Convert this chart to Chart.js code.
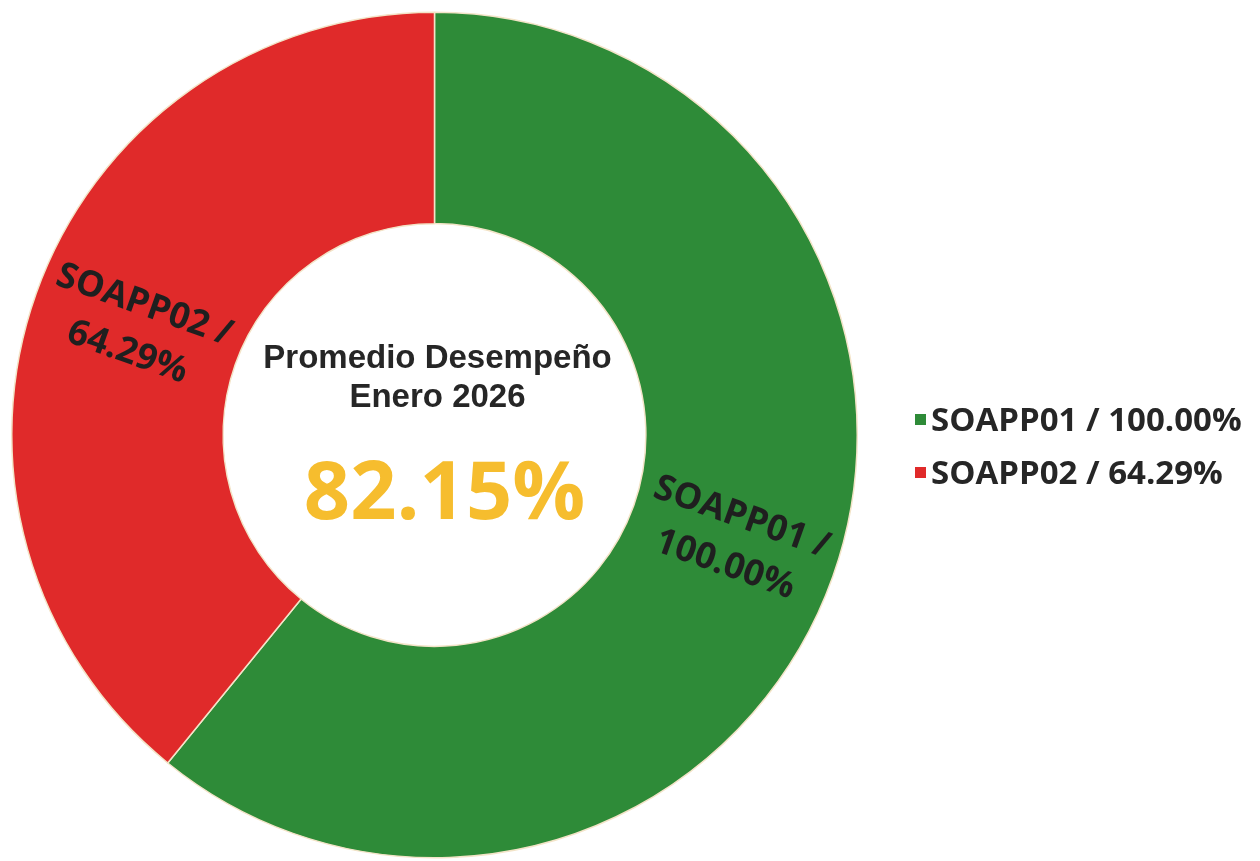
<!DOCTYPE html>
<html>
<head>
<meta charset="utf-8">
<title>Promedio Desempeño Enero 2026</title>
<script src="https://cdn.jsdelivr.net/npm/chart.js@4"></script>
<style>
  body { margin: 0; background: #fff; }
  #wrap { position: relative; width: 1260px; height: 861px; }
</style>
</head>
<body>
<div id="wrap"><canvas id="donut" width="1260" height="861"></canvas></div>
<script>
// data
const labels = ['SOAPP01', 'SOAPP02'];
const values = [100.00, 64.29];
const colors = ['#2e8b38', '#e02a2a'];
const centerTitle = ['Promedio Desempeño', 'Enero 2026'];
const centerValue = '82.15%';

// label text inside each slice, wrapped on two lines
const sliceLabels = {
  id: 'sliceLabels',
  afterDatasetsDraw(chart) {
    const ctx = chart.ctx;
    const meta = chart.getDatasetMeta(0);
    meta.data.forEach((arc, i) => {
      const p = arc.getProps(['x', 'y', 'startAngle', 'endAngle', 'innerRadius', 'outerRadius'], true);
      const mid = (p.startAngle + p.endAngle) / 2;
      const r = (p.innerRadius + p.outerRadius) / 2;
      const x = p.x + Math.cos(mid) * r;
      const y = p.y + Math.sin(mid) * r;
      let rot = mid;
      if (Math.cos(mid) < 0) rot += Math.PI;
      ctx.save();
      ctx.translate(x, y);
      ctx.rotate(rot);
      ctx.font = 'bold 36px "Open Sans"';
      ctx.fillStyle = '#1f1f1f';
      ctx.textAlign = 'center';
      ctx.textBaseline = 'middle';
      const lines = [labels[i] + ' /', values[i].toFixed(2) + '%'];
      lines.forEach((t, k) => ctx.fillText(t, 0, (k - (lines.length - 1) / 2) * 50));
      ctx.restore();
    });
  }
};

// title and average in the hole
const centerText = {
  id: 'centerText',
  afterDraw(chart) {
    const ctx = chart.ctx;
    const arc = chart.getDatasetMeta(0).data[0];
    const cx = arc.x, cy = arc.y;
    ctx.save();
    ctx.textAlign = 'center';
    ctx.textBaseline = 'middle';
    ctx.fillStyle = '#262626';
    ctx.font = 'bold 33px "Liberation Sans"';
    ctx.fillText(centerTitle[0], cx + 3, cy - 76);
    ctx.fillText(centerTitle[1], cx + 3, cy - 37);
    ctx.fillStyle = '#f6bd2e';
    ctx.font = 'bold 81px "Open Sans"';
    ctx.fillText(centerValue, cx + 10, cy + 61);
    ctx.restore();
  }
};

// legend on the right
const sideLegend = {
  id: 'sideLegend',
  afterDraw(chart) {
    const ctx = chart.ctx;
    ctx.save();
    ctx.textAlign = 'left';
    ctx.textBaseline = 'middle';
    ctx.font = 'bold 33px "Open Sans"';
    labels.forEach((lab, i) => {
      const y = 419 + i * 53;
      ctx.fillStyle = colors[i];
      ctx.fillRect(915, y - 5, 11, 11);
      ctx.fillStyle = '#262626';
      ctx.fillText(lab + ' / ' + values[i].toFixed(2) + '%', 931, y + 3);
    });
    ctx.restore();
  }
};

const ctx = document.getElementById('donut').getContext('2d');
const chart = new Chart(ctx, {
  type: 'doughnut',
  data: {
    labels: labels,
    datasets: [{
      data: values,
      backgroundColor: colors,
      borderColor: '#f3e4c8',
      borderWidth: 1.5,
      hoverOffset: 0
    }]
  },
  options: {
    responsive: false,
    animation: false,
    cutout: '50%',
    layout: {
      padding: { left: 11, top: 11, right: 402, bottom: 2 }
    },
    plugins: {
      legend: { display: false },
      tooltip: { enabled: false }
    }
  },
  plugins: [sliceLabels, centerText, sideLegend]
});
</script>
</body>
</html>
